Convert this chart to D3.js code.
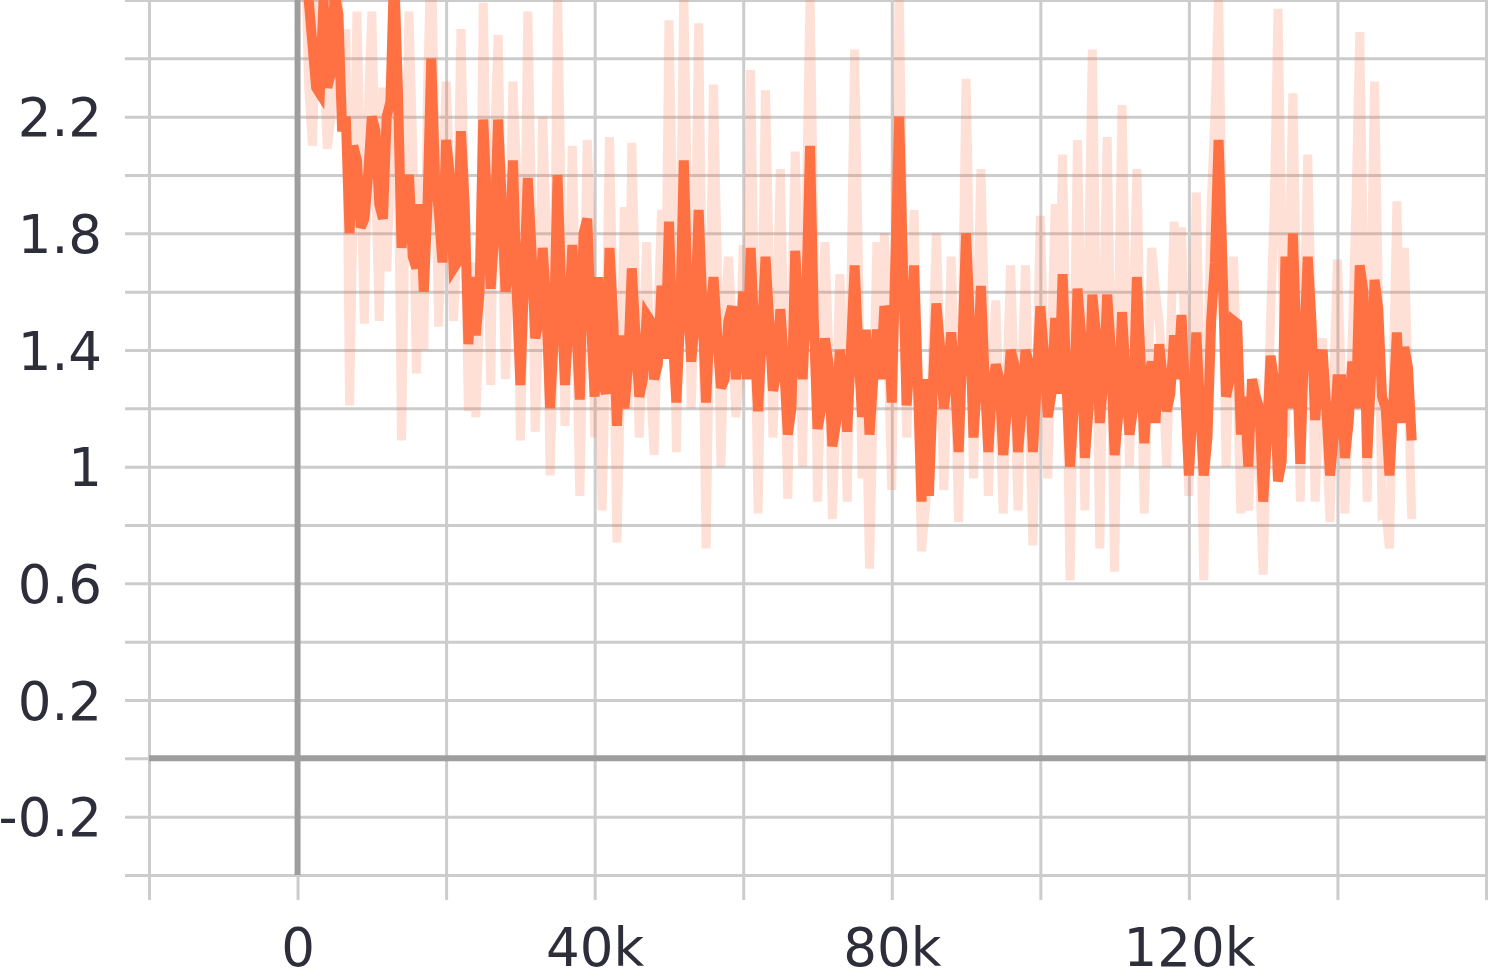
<!DOCTYPE html>
<html>
<head>
<meta charset="utf-8">
<script src="https://cdn.jsdelivr.net/npm/d3@7/dist/d3.min.js"></script>
<style>
  html, body { margin: 0; padding: 0; background: #fff; }
  svg { display: block; }
  .tick text { font-family: "DejaVu Sans", sans-serif; font-size: 53px; fill: #2e2e3a; }
</style>
</head>
<body>
<svg id="chart" width="1497" height="977"></svg>
<script>
// ---- data ----
const STEP_START = 1000;     // first logged step
const STEP_INTERVAL = 500;   // logging interval

const smoothed = [
  2.75, 2.6, 2.45, 2.3, 2.28, 2.6, 2.3, 2.35, 2.62, 2.55,
  2.15, 2.2, 1.8, 2.1, 2.05, 1.82, 1.85, 2.0, 2.2, 2.15,
  1.9, 1.85, 2.2, 2.25, 2.7, 2.3, 1.75, 1.9, 2.0, 1.72,
  1.68, 1.9, 1.6, 1.9, 2.4, 2.0, 1.88, 1.7, 2.12, 2.0,
  1.68, 1.7, 2.15, 1.9, 1.42, 1.65, 1.45, 1.6, 2.19, 1.9,
  1.61, 1.8, 2.19, 1.9, 1.6, 1.7, 2.05, 1.6, 1.28, 1.65,
  1.99, 1.74, 1.44, 1.5, 1.75, 1.55, 1.2, 1.45, 2.0, 1.6,
  1.28, 1.5, 1.76, 1.5, 1.23, 1.8, 1.85, 1.5, 1.24, 1.65,
  1.3, 1.25, 1.75, 1.5, 1.14, 1.45, 1.2, 1.35, 1.68, 1.45,
  1.24, 1.3, 1.52, 1.5, 1.3, 1.35, 1.62, 1.37, 1.84, 1.45,
  1.22, 1.5, 2.05, 1.6, 1.36, 1.5, 1.88, 1.55, 1.22, 1.5,
  1.65, 1.45, 1.27, 1.3, 1.5, 1.55, 1.3, 1.4, 1.6, 1.3,
  1.75, 1.45, 1.19, 1.45, 1.72, 1.5, 1.26, 1.32, 1.54, 1.35,
  1.11, 1.2, 1.74, 1.5, 1.3, 1.6, 2.1, 1.5, 1.13, 1.2,
  1.44, 1.35, 1.07, 1.15, 1.4, 1.3, 1.12, 1.4, 1.69, 1.4,
  1.17, 1.47, 1.11, 1.3, 1.47, 1.3, 1.55, 1.5, 1.22, 1.72,
  2.2, 1.69, 1.21, 1.4, 1.69, 1.3, 0.88, 1.3, 0.9, 1.25,
  1.56, 1.41, 1.2, 1.3, 1.46, 1.3, 1.05, 1.4, 1.8, 1.5,
  1.1, 1.3, 1.62, 1.3, 1.05, 1.27, 1.35, 1.3, 1.04, 1.2,
  1.4, 1.35, 1.05, 1.2, 1.4, 1.35, 1.05, 1.28, 1.55, 1.38,
  1.17, 1.25, 1.51, 1.25, 1.66, 1.3, 1.0, 1.2, 1.61, 1.45,
  1.03, 1.2, 1.59, 1.45, 1.15, 1.3, 1.59, 1.4, 1.04, 1.18,
  1.53, 1.3, 1.11, 1.2, 1.65, 1.36, 1.08, 1.3, 1.36, 1.15,
  1.42, 1.3, 1.19, 1.25, 1.45, 1.3, 1.52, 1.25, 0.97, 1.2,
  1.46, 1.2, 0.97, 1.1, 1.5, 1.7, 2.12, 1.71, 1.24, 1.3,
  1.5, 1.49, 1.11, 1.24, 1.0, 1.3, 1.24, 1.2, 0.88, 1.1,
  1.38, 1.29, 0.95, 1.02, 1.72, 1.2, 1.8, 1.4, 1.01, 1.41,
  1.72, 1.5, 1.16, 1.34, 1.4, 1.2, 0.97, 1.1, 1.3, 1.3,
  1.03, 1.15, 1.36, 1.2, 1.69, 1.6, 1.03, 1.3, 1.64, 1.54,
  1.24, 1.2, 0.97, 1.2, 1.46, 1.15, 1.41, 1.34, 1.09
];

const raw = [
  2.8, 2.3, 2.1, 2.5, 2.7, 2.4, 2.09, 2.2, 2.8, 2.6,
  2.2, 2.5, 1.21, 1.9, 2.56, 2.0, 1.49, 2.2, 2.56, 2.0,
  1.5, 2.3, 1.67, 2.0, 2.8, 2.2, 1.09, 1.9, 2.56, 2.1,
  1.32, 2.0, 1.4, 2.3, 2.8, 2.1, 1.48, 1.9, 2.32, 2.0,
  1.5, 1.8, 2.5, 1.9, 1.19, 1.7, 1.17, 1.5, 2.59, 1.9,
  1.28, 2.1, 2.48, 1.85, 1.3, 1.75, 2.32, 2.0, 1.09, 1.6,
  2.56, 1.9, 1.12, 1.5, 2.2, 1.8, 0.97, 1.4, 2.62, 1.9,
  1.14, 1.6, 2.1, 1.5, 0.9, 1.5, 2.12, 1.8, 1.1, 1.5,
  0.85, 1.4, 2.13, 1.5, 0.74, 1.3, 1.89, 1.2, 2.11, 1.6,
  1.1, 1.4, 1.77, 1.3, 1.04, 1.5, 1.88, 1.4, 2.53, 1.9,
  1.05, 1.7, 2.62, 1.9, 1.2, 1.6, 2.52, 1.6, 0.72, 1.5,
  2.31, 1.7, 1.0, 1.5, 1.72, 1.5, 1.17, 1.3, 1.76, 1.5,
  2.36, 1.6, 0.84, 1.5, 2.29, 1.7, 1.1, 1.5, 2.02, 1.4,
  0.89, 1.5, 2.08, 1.6, 1.0, 1.9, 2.62, 1.8, 0.88, 1.3,
  1.77, 1.4, 0.82, 1.2, 1.66, 1.4, 0.88, 1.6, 2.43, 1.7,
  0.96, 1.3, 0.65, 1.2, 1.77, 1.3, 1.8, 1.4, 0.92, 1.8,
  2.62, 1.8, 1.1, 1.5, 1.88, 1.3, 0.71, 0.85, 1.0, 1.4,
  1.8, 1.4, 0.92, 1.3, 1.72, 1.3, 0.81, 1.5, 2.33, 1.7,
  0.96, 1.5, 2.02, 1.5, 0.9, 1.3, 1.57, 1.2, 0.84, 1.3,
  1.69, 1.3, 0.85, 1.3, 1.69, 1.2, 0.73, 1.3, 1.86, 1.4,
  0.96, 1.4, 1.9, 1.5, 2.07, 1.4, 0.61, 1.3, 2.12, 1.5,
  0.85, 1.7, 2.43, 1.6, 0.72, 1.5, 2.13, 1.4, 0.64, 1.5,
  2.24, 1.6, 1.0, 1.5, 2.02, 1.4, 0.84, 1.3, 1.75, 1.6,
  1.5, 1.3, 1.0, 1.4, 1.84, 1.6, 1.82, 1.4, 0.9, 1.4,
  1.94, 1.3, 0.61, 1.3, 1.9, 2.2, 2.62, 1.8, 1.0, 1.4,
  1.72, 1.3, 0.84, 1.2, 0.85, 1.1, 1.3, 1.0, 0.63, 1.1,
  1.51, 1.9, 2.57, 1.8, 1.1, 1.7, 2.28, 1.6, 0.88, 1.5,
  2.07, 1.5, 0.88, 1.2, 1.44, 1.1, 0.81, 1.3, 1.71, 1.3,
  0.84, 1.2, 1.44, 1.9, 2.49, 1.7, 0.88, 1.6, 2.32, 1.6,
  0.84, 0.85, 0.72, 1.3, 1.91, 1.3, 1.75, 1.3, 0.82
];

const yGridValues = [-0.4, -0.2, 0, 0.2, 0.4, 0.6, 0.8, 1, 1.2, 1.4, 1.6, 1.8, 2, 2.2, 2.4, 2.6];
const yTickLabels = ["-0.2", "0.2", "0.6", "1", "1.4", "1.8", "2.2"];
const xGridValues = [-20000, 0, 20000, 40000, 60000, 80000, 100000, 120000, 140000, 160000];
const xTickLabels = ["0", "40k", "80k", "120k"];

// ---- layout ----
const svg = d3.select("#chart");
const L = 149, R = 1486, T = 0, B = 875;

const x = d3.scaleLinear().domain([-20000, 160000]).range([L, R]);
const y = d3.scaleLinear().domain([-0.4, 2.6]).range([B, T]);

const fmtY = v => { const s = String(+v.toFixed(2)); return yTickLabels.includes(s) ? s : ""; };
const fmtX = v => { const s = v === 0 ? "0" : (v / 1000) + "k"; return xTickLabels.includes(s) ? s : ""; };

// y grid + labels
const gy = svg.append("g").attr("transform", `translate(125,0)`)
  .call(d3.axisLeft(y).tickValues(yGridValues).tickSize(-(R - 125)).tickPadding(23).tickFormat(fmtY));
gy.select(".domain").remove();
gy.selectAll(".tick line").attr("stroke", "#cccccc").attr("stroke-width", 3);
gy.selectAll(".tick text").attr("dy", "0.36em");

// x grid + labels
const gx = svg.append("g").attr("transform", `translate(0,900)`)
  .call(d3.axisBottom(x).tickValues(xGridValues).tickSize(-900).tickPadding(28).tickFormat(fmtX));
gx.select(".domain").remove();
gx.selectAll(".tick line").attr("stroke", "#cccccc").attr("stroke-width", 3);
gx.selectAll(".tick text").attr("text-anchor", "middle");

// zero axes (heavier)
svg.append("line").attr("x1", L).attr("x2", R).attr("y1", y(0)).attr("y2", y(0))
  .attr("stroke", "#9e9e9e").attr("stroke-width", 6);
svg.append("line").attr("x1", x(0)).attr("x2", x(0)).attr("y1", T).attr("y2", B)
  .attr("stroke", "#9e9e9e").attr("stroke-width", 6);

// clip
svg.append("clipPath").attr("id", "plotclip").append("rect")
  .attr("x", L).attr("y", T).attr("width", R - L).attr("height", B - T);

const stepOf = i => STEP_START + i * STEP_INTERVAL;
const line = d3.line().x((d, i) => x(stepOf(i))).y(d => y(d));

const plot = svg.append("g").attr("clip-path", "url(#plotclip)");
plot.append("path").datum(raw).attr("d", line)
  .attr("fill", "none").attr("stroke", "#ff7043").attr("stroke-opacity", 0.22).attr("stroke-width", 9);
plot.append("path").datum(smoothed).attr("d", line)
  .attr("fill", "none").attr("stroke", "#ff7043").attr("stroke-width", 10);
</script>
</body>
</html>
